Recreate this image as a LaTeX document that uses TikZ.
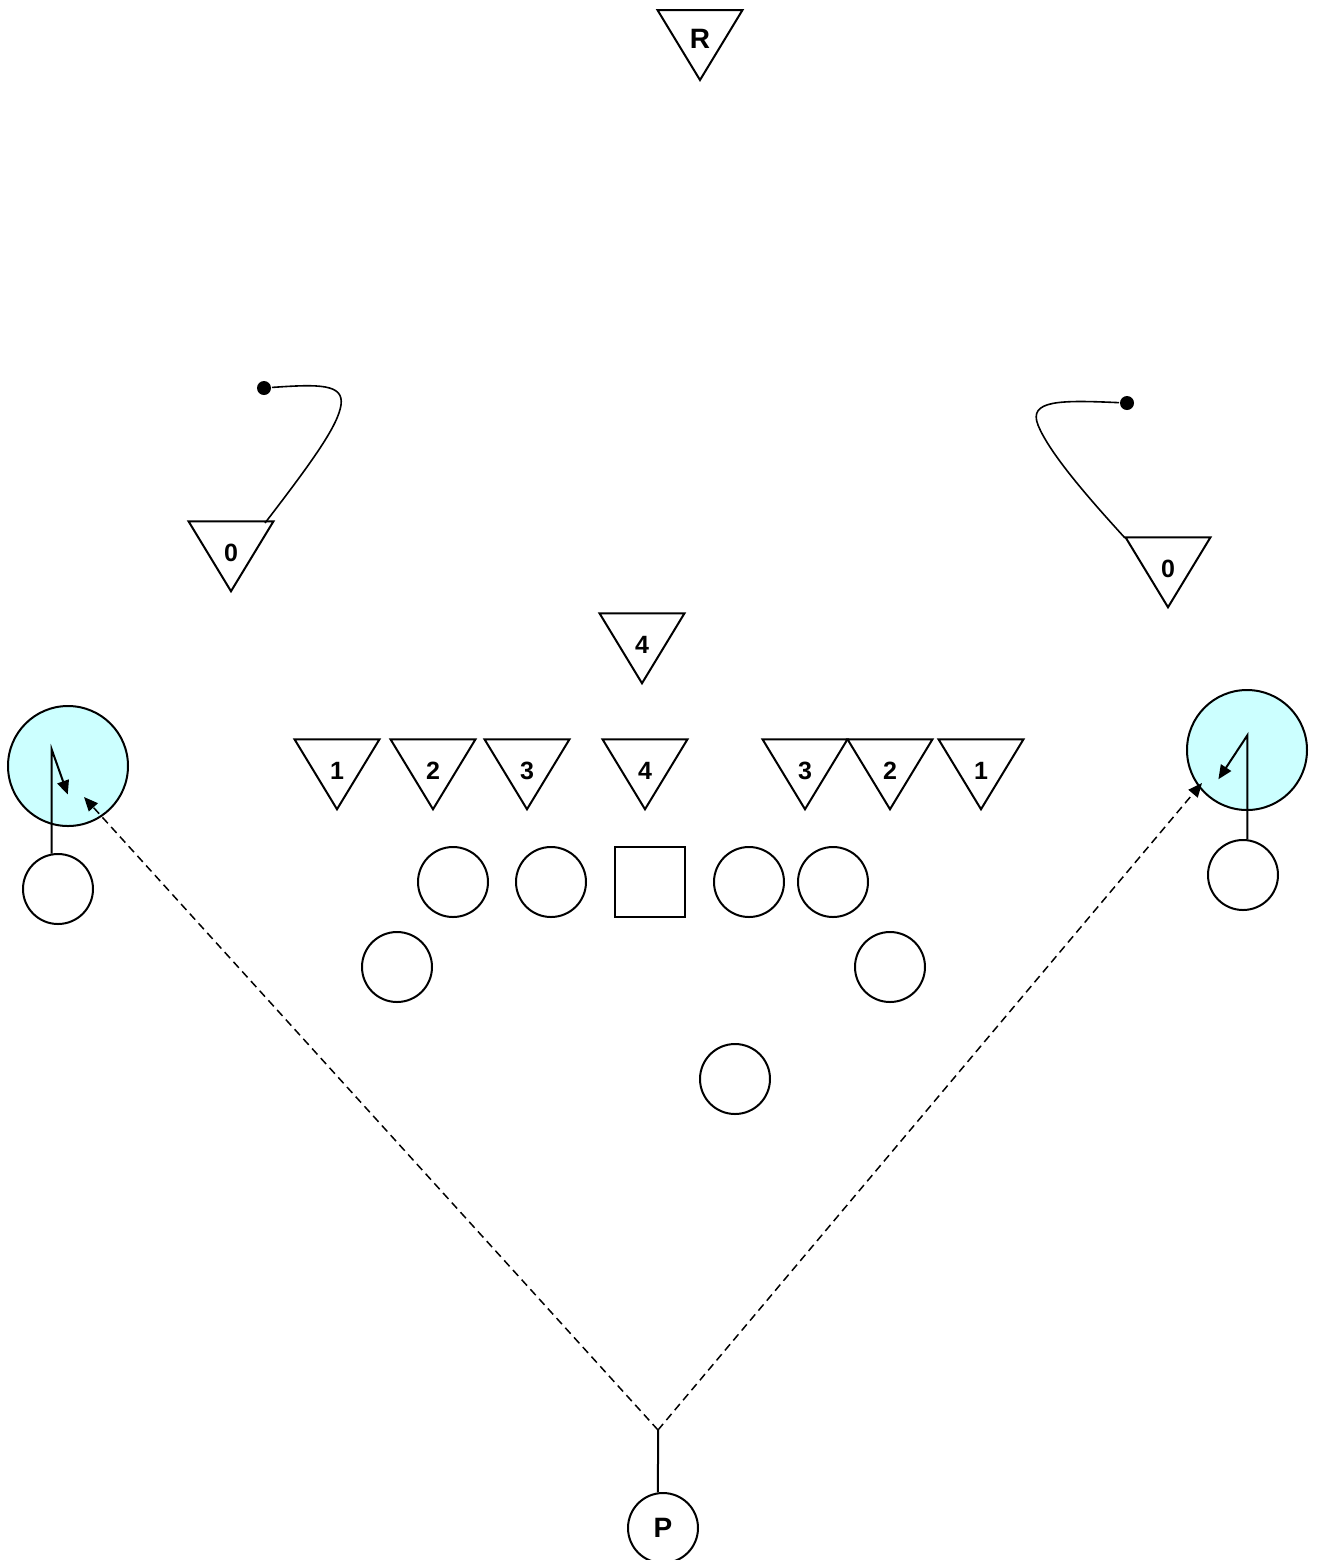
\documentclass[tikz,border=0pt]{standalone}
\usepackage{fontspec}
\setmainfont{Liberation Sans}
\usepackage{xcolor}
\usepackage{tikz}
\usetikzlibrary{shapes.geometric, arrows.meta}

\definecolor{zone}{HTML}{CCFFFF}

\begin{document}
\begin{tikzpicture}[x = 0.5pt, y = -0.5pt, line width = 1pt,
        tri/.style = {isosceles triangle, isosceles triangle stretches, shape border rotate = 270, draw, minimum width = 42.5pt, minimum height = 35pt, inner sep = 0pt, text height = 15pt, text depth = 0pt, font = \fontsize{12.5}{14}\selectfont\bfseries},
        man/.style = {circle, draw, minimum size = 35pt, inner sep = 0pt, font = \fontsize{14}{16}\selectfont\bfseries},
        ctr/.style = {rectangle, draw, minimum size = 35pt, inner sep = 0pt},
        hot/.style = {circle, draw, fill = zone, minimum size = 60pt, inner sep = 0pt},
        dot/.style = {circle, fill = black, minimum size = 7pt, inner sep = 0pt},
        route/.style = {-{Triangle[length = 7pt, width = 6pt]}},
        pass/.style = {dash pattern = on 4pt off 2.5pt, line width = 0.75pt, -{Triangle[length = 7pt, width = 6pt]}}]
        \useasboundingbox (0, 0) rectangle (1317, 1560);
        % zones
        \node (lh) at (68, 766) [hot] {};
        \node (rh) at (1247, 750) [hot] {};
        % defense
        \node (r) at (700, 33) [tri, font = \fontsize{14}{16}\selectfont\bfseries] {R};
        \node (lz) at (231, 546) [tri] {0};
        \node (rz) at (1168, 562) [tri] {0};
        \node (m4) at (642, 638) [tri] {4};
        \node (l1) at (337, 764) [tri] {1};
        \node (l2) at (433, 764) [tri] {2};
        \node (l3) at (527, 764) [tri] {3};
        \node (n4) at (645, 764) [tri] {4};
        \node (r3) at (805, 764) [tri] {3};
        \node (r2) at (890, 764) [tri] {2};
        \node (r1) at (981, 764) [tri] {1};
        % offense
        \node (lg) at (453, 882) [man] {};
        \node (lt) at (551, 882) [man] {};
        \node (c) at (650, 882) [ctr] {};
        \node (rt) at (749, 882) [man] {};
        \node (rg) at (833, 882) [man] {};
        \node (le) at (397, 967) [man] {};
        \node (re) at (890, 967) [man] {};
        \node (b) at (735, 1079) [man] {};
        \node (lw) at (58, 889) [man] {};
        \node (rw) at (1243, 875) [man] {};
        \node (p) at (663, 1528) [man] {P};
        % drops
        \node (ld) at (264, 388) [dot] {};
        \node (rd) at (1127, 403) [dot] {};
        \coordinate (lc) at (265, 523);
        \coordinate (rc) at (1125, 538);
        \draw [line width = 0.8pt] (lc) .. controls (315, 458) and (338, 425) .. (341, 405) .. controls (344, 384) and (320, 384) .. (ld);
        \draw [line width = 0.8pt] (rc) .. controls (1095, 505) and (1050, 455) .. (1038, 425) .. controls (1028, 400) and (1060, 400) .. (rd);
        % routes
        \draw [route] (lw.100) -- ++(0, -104) -- ++(16, 45);
        \draw [route] (rw.83) -- ++(0, -104) -- ++(-29, 44);
        % pass
        \coordinate (v) at (658, 1430);
        \coordinate (la) at (84, 797);
        \coordinate (ra) at (1202, 783);
        \draw [] (p.98) -- (v);
        \draw [pass] (v) -- (la);
        \draw [pass] (v) -- (ra);
    \end{tikzpicture}
\end{document}
